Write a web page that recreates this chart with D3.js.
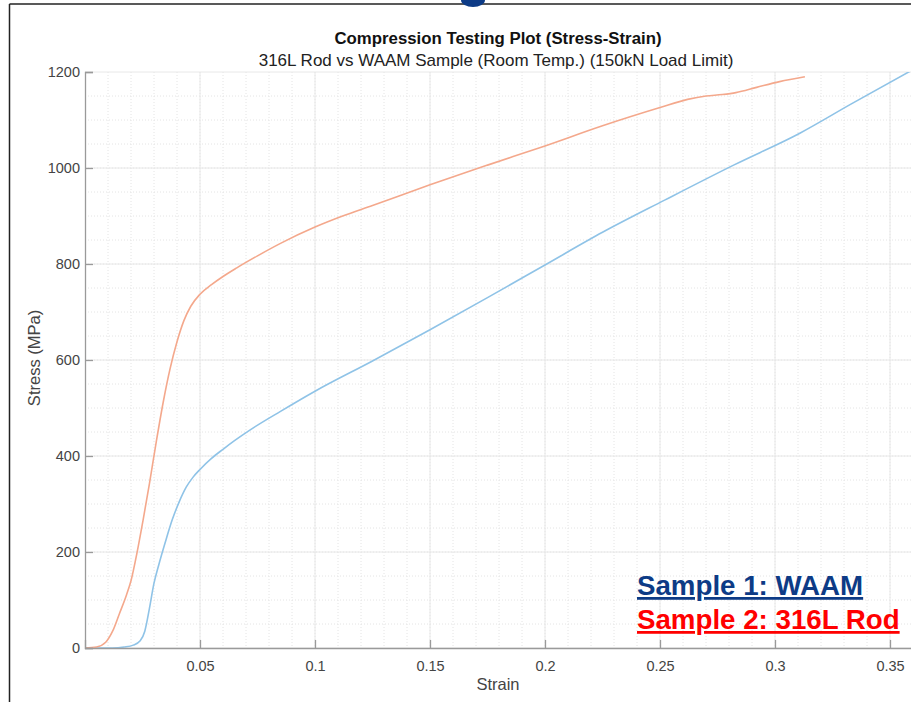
<!doctype html>
<html>
<head>
  <script src="https://d3js.org/d3.v7.min.js" charset="utf-8"></script>
  <style>
    body { margin: 0; background: #fff; }
    text { font-family: "Liberation Sans", Arial, sans-serif; }
  </style>
</head>
<body>
  <div id="viz"></div>
  <script>
  // data (strain, stress in MPa)
  var waamStrain = [0, 0.012, 0.017, 0.021, 0.024, 0.026, 0.028, 0.030, 0.032, 0.035, 0.038, 0.041, 0.044, 0.047, 0.050, 0.055, 0.060, 0.065, 0.072, 0.085, 0.100, 0.125, 0.150, 0.175, 0.200, 0.225, 0.252, 0.282, 0.311, 0.333, 0.360];
  var waamStress = [0, 0, 2, 6, 15, 35, 82, 135, 172, 222, 268, 305, 335, 356, 372, 395, 414, 432, 455, 493, 535, 598, 663, 730, 798, 866, 933, 1006, 1073, 1133, 1205];

  var rodStrain = [0, 0.005, 0.009, 0.012, 0.015, 0.018, 0.020, 0.0226, 0.0252, 0.028, 0.031, 0.034, 0.037, 0.040, 0.043, 0.046, 0.050, 0.055, 0.060, 0.066, 0.075, 0.085, 0.100, 0.112, 0.125, 0.150, 0.175, 0.200, 0.225, 0.250, 0.262, 0.270, 0.277, 0.283, 0.292, 0.302, 0.313];
  var rodStress = [0, 2, 12, 35, 72, 110, 140, 198, 265, 342, 430, 512, 582, 638, 682, 712, 737, 757, 774, 792, 817, 843, 877, 900, 922, 965, 1006, 1046, 1088, 1126, 1143, 1150, 1153, 1157, 1168, 1180, 1190];

  var xTicks = [0.05, 0.1, 0.15, 0.2, 0.25, 0.3, 0.35];
  var yTicks = [0, 200, 400, 600, 800, 1000, 1200];

  var titleText = "Compression Testing Plot (Stress-Strain)";
  var subtitleText = "316L Rod vs WAAM Sample (Room Temp.) (150kN Load Limit)";
  var legendLabels = ["Sample 1: WAAM", "Sample 2: 316L Rod"];

  var W = 911, H = 702;
  var margin = {top: 72, left: 85, bottom: 54, right: -2};
  var width = W - margin.left - margin.right,
      height = H - margin.top - margin.bottom;

  var svg = d3.select("#viz").append("svg")
      .attr("width", W)
      .attr("height", H);

  // outer frame of the screenshot
  svg.append("line").attr("x1", 9.5).attr("x2", W).attr("y1", 4).attr("y2", 4)
      .attr("stroke", "#222").attr("stroke-width", 1.5);
  svg.append("line").attr("x1", 9.5).attr("x2", 9.5).attr("y1", 4).attr("y2", H)
      .attr("stroke", "#222").attr("stroke-width", 1.5);
  svg.append("ellipse").attr("cx", 473).attr("cy", 0).attr("rx", 12).attr("ry", 7)
      .attr("fill", "#0d3b86");

  var g = svg.append("g")
      .attr("transform", "translate(" + margin.left + "," + margin.top + ")");

  var x = d3.scaleLinear().domain([0, 0.36]).range([0, width]);
  var y = d3.scaleLinear().domain([0, 1200]).range([height, 0]);

  // minor grid
  g.append("g").selectAll("line").data(d3.range(0.01, 0.36, 0.01))
    .enter().append("line")
      .attr("x1", d => x(d)).attr("x2", d => x(d))
      .attr("y1", 0).attr("y2", height)
      .attr("stroke", "#e4e4e4").attr("stroke-dasharray", "1,2");
  g.append("g").selectAll("line").data(d3.range(50, 1200, 50))
    .enter().append("line")
      .attr("x1", 0).attr("x2", width)
      .attr("y1", d => y(d)).attr("y2", d => y(d))
      .attr("stroke", "#e4e4e4").attr("stroke-dasharray", "1,2");

  // major grid
  g.append("g").selectAll("line").data(xTicks)
    .enter().append("line")
      .attr("x1", d => x(d)).attr("x2", d => x(d))
      .attr("y1", 0).attr("y2", height)
      .attr("stroke", "#e8e8e8");
  g.append("g").selectAll("line").data(yTicks)
    .enter().append("line")
      .attr("x1", 0).attr("x2", width)
      .attr("y1", d => y(d)).attr("y2", d => y(d))
      .attr("stroke", "#e8e8e8");

  // curves
  g.append("clipPath").attr("id", "clip")
    .append("rect").attr("width", width).attr("height", height);

  var line = d3.line()
      .x(d => x(d[0]))
      .y(d => y(d[1]))
      .curve(d3.curveMonotoneX);

  g.append("path")
      .datum(waamStrain.map((s, i) => [s, waamStress[i]]))
      .attr("clip-path", "url(#clip)")
      .attr("d", line)
      .attr("fill", "none")
      .attr("stroke", "#8fc3e7")
      .attr("stroke-width", 1.6);

  g.append("path")
      .datum(rodStrain.map((s, i) => [s, rodStress[i]]))
      .attr("clip-path", "url(#clip)")
      .attr("d", line)
      .attr("fill", "none")
      .attr("stroke", "#f4a88c")
      .attr("stroke-width", 1.6);

  // axes (ticks point inward)
  var xAxis = g.append("g")
      .attr("transform", "translate(0," + height + ")")
      .call(d3.axisBottom(x).tickValues(xTicks).tickSize(-8).tickPadding(13)
            .tickFormat(d3.format("")));
  var yAxis = g.append("g")
      .call(d3.axisLeft(y).tickValues(yTicks).tickSize(-8).tickPadding(6)
            .tickFormat(d3.format("d")));

  [xAxis, yAxis].forEach(function(a) {
    a.select(".domain").attr("stroke", "#9a9a9a").attr("stroke-width", 1.3);
    a.selectAll(".tick line").attr("stroke", "#9a9a9a").attr("stroke-width", 1.3);
    a.selectAll(".tick text").attr("fill", "#444").style("font-size", "14.5px")
      .style("font-family", "'Liberation Sans', Arial, sans-serif");
  });
  yAxis.selectAll(".tick text").attr("x", -5);

  // titles
  svg.append("text")
      .attr("x", 498).attr("y", 44)
      .attr("text-anchor", "middle")
      .style("font-size", "16.8px").style("font-weight", "bold")
      .attr("fill", "#111")
      .text(titleText);
  svg.append("text")
      .attr("x", 496).attr("y", 66)
      .attr("text-anchor", "middle")
      .style("font-size", "17px")
      .attr("fill", "#222")
      .text(subtitleText);

  // axis labels
  svg.append("text")
      .attr("x", 498).attr("y", 690)
      .attr("text-anchor", "middle")
      .style("font-size", "16.5px")
      .attr("fill", "#444")
      .text("Strain");
  svg.append("text")
      .attr("transform", "translate(40,358) rotate(-90)")
      .attr("text-anchor", "middle")
      .style("font-size", "16.5px")
      .attr("fill", "#444")
      .text("Stress (MPa)");

  // legend annotation
  var legendColors = ["#0d3b86", "#ff0000"];
  var legendY = [595, 629];
  legendLabels.forEach(function(t, i) {
    svg.append("text")
        .attr("x", 637).attr("y", legendY[i])
        .style("font-size", "27.7px").style("font-weight", "bold")
        .style("text-decoration", "underline")
        .attr("fill", legendColors[i])
        .text(t);
  });
  </script>
</body>
</html>
